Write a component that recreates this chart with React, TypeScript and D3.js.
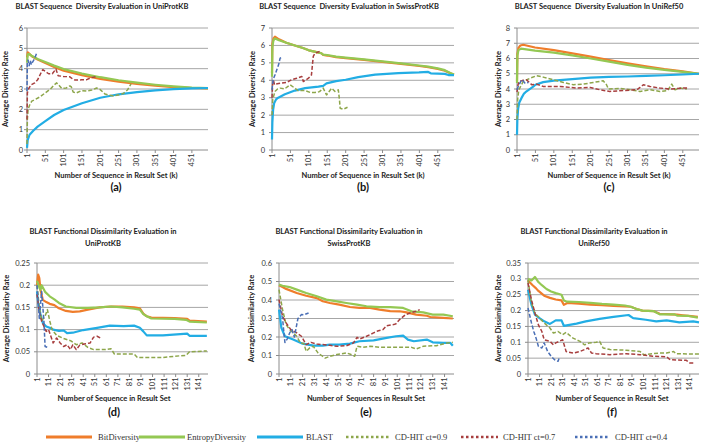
import * as d3 from "d3"

type Pt = [number, number]

// (a) sequence diversity, UniProtKB
const aBit: Pt[] = [[1, 4.55], [3, 4.8], [6, 4.75], [15, 4.6], [30, 4.45], [51, 4.28], [75, 4.08], [101, 3.9], [151, 3.68], [201, 3.5], [251, 3.36], [301, 3.25], [351, 3.16], [401, 3.09], [451, 3.05], [495, 3.03]]
const aEnt: Pt[] = [[1, 4.3], [3, 4.7], [7, 4.72], [15, 4.62], [30, 4.48], [51, 4.33], [75, 4.15], [101, 3.98], [151, 3.76], [201, 3.58], [251, 3.43], [301, 3.31], [351, 3.21], [401, 3.13], [451, 3.07], [495, 3.04]]
const aBlast: Pt[] = [[1, 0.1], [3, 0.5], [8, 0.75], [18, 0.95], [30, 1.15], [51, 1.42], [75, 1.72], [101, 1.97], [151, 2.3], [201, 2.57], [251, 2.74], [301, 2.85], [351, 2.93], [401, 2.99], [451, 3.03], [495, 3.05]]
const a09: Pt[] = [[1, 0.3], [2, 1.5], [4, 2.0], [8, 2.2], [14, 2.4], [25, 2.5], [37, 2.62], [50, 2.8], [65, 3.0], [75, 3.2], [82, 3.3], [90, 3.15], [96, 3.02], [108, 3.05], [118, 3.15], [122, 3.1], [127, 2.85], [135, 2.8], [150, 2.92], [165, 2.9], [178, 2.95], [191, 3.05], [200, 2.98], [214, 2.75], [225, 2.7], [237, 2.66], [250, 2.7], [264, 2.78], [275, 2.95], [285, 3.25]]
const a07: Pt[] = [[1, 1.5], [2, 2.8], [5, 3.0], [12, 3.2], [22, 3.3], [30, 3.45], [38, 3.75], [44, 3.95], [52, 3.85], [60, 3.75], [70, 3.75], [80, 3.98], [86, 3.65], [100, 3.62], [118, 3.6], [125, 3.5], [132, 3.44], [150, 3.45], [164, 3.46], [175, 3.55], [188, 3.6]]
const a04: Pt[] = [[1, 2.9], [2, 4.3], [4, 4.42], [7, 4.15], [10, 4.4], [13, 4.2], [17, 4.35], [22, 4.5], [27, 4.75]]

// (b) sequence diversity, SwissProtKB
const bBit: Pt[] = [[1, 4.4], [2, 6.1], [5, 6.4], [9, 6.5], [20, 6.35], [40, 6.15], [63, 6.0], [85, 5.85], [101, 5.72], [125, 5.6], [135, 5.55], [140, 5.45], [151, 5.42], [175, 5.33], [201, 5.27], [251, 5.17], [301, 5.06], [351, 4.94], [401, 4.82], [425, 4.75], [451, 4.65], [470, 4.55], [485, 4.4], [495, 4.32]]
const bEnt: Pt[] = [[1, 4.2], [2, 5.9], [5, 6.3], [9, 6.4], [20, 6.3], [40, 6.15], [63, 6.0], [85, 5.85], [101, 5.72], [125, 5.6], [135, 5.55], [140, 5.47], [151, 5.45], [175, 5.36], [201, 5.3], [251, 5.2], [301, 5.09], [351, 4.97], [401, 4.85], [425, 4.78], [451, 4.68], [470, 4.58], [485, 4.42], [495, 4.33]]
const bBlast: Pt[] = [[1, 0.6], [2, 1.6], [4, 2.3], [7, 2.7], [12, 2.9], [18, 3.0], [36, 3.2], [63, 3.41], [91, 3.55], [127, 3.64], [140, 3.68], [149, 3.82], [175, 3.95], [201, 4.03], [235, 4.18], [281, 4.32], [344, 4.41], [400, 4.45], [425, 4.48], [432, 4.4], [470, 4.37], [480, 4.3], [495, 4.3]]
const b09: Pt[] = [[1, 2.0], [3, 2.9], [9, 3.36], [16, 3.5], [23, 3.55], [35, 3.5], [50, 3.74], [63, 3.55], [72, 3.4], [90, 3.42], [105, 3.3], [118, 3.3], [130, 3.35], [140, 3.55], [149, 3.16], [163, 3.55], [172, 3.36], [181, 3.45], [184, 2.9], [186, 2.4], [195, 2.34], [206, 2.45]]
const b07: Pt[] = [[1, 3.0], [3, 3.9], [5, 4.0], [8, 3.74], [15, 3.8], [27, 3.84], [40, 3.87], [54, 4.03], [68, 4.12], [82, 4.22], [86, 3.93], [100, 4.12], [108, 4.3], [113, 5.37], [118, 5.56], [131, 5.66]]
const b04: Pt[] = [[1, 3.45], [4, 4.03], [9, 4.3], [14, 4.6], [19, 4.9], [23, 5.27], [27, 5.3]]

// (c) sequence diversity, UniRef50
const cBit: Pt[] = [[1, 4.5], [2, 6.3], [5, 6.7], [10, 6.85], [18, 6.9], [50, 6.72], [101, 6.55], [151, 6.34], [201, 6.12], [251, 5.9], [301, 5.68], [351, 5.48], [401, 5.3], [451, 5.15], [495, 5.0]]
const cEnt: Pt[] = [[1, 4.4], [2, 6.2], [5, 6.55], [12, 6.65], [50, 6.52], [101, 6.38], [151, 6.2], [201, 6.0], [251, 5.8], [301, 5.58], [351, 5.4], [401, 5.25], [451, 5.12], [495, 5.0]]
const cBlast: Pt[] = [[1, 1.0], [2, 2.0], [4, 2.7], [7, 3.1], [13, 3.4], [20, 3.7], [27, 3.85], [45, 4.15], [51, 4.28], [72, 4.45], [101, 4.55], [151, 4.65], [201, 4.74], [251, 4.79], [301, 4.82], [351, 4.86], [401, 4.9], [451, 4.95], [495, 5.0]]
const c09: Pt[] = [[1, 2.0], [3, 3.4], [6, 3.95], [18, 4.5], [36, 4.7], [54, 4.87], [72, 4.78], [100, 4.6], [127, 4.43], [154, 4.28], [181, 4.32], [208, 4.43], [235, 4.54], [244, 4.28], [249, 4.0], [281, 4.04], [308, 3.95], [335, 3.84], [362, 3.95], [389, 3.84], [410, 3.9], [421, 4.32], [430, 3.95], [444, 4.06], [462, 4.0]]
const c07: Pt[] = [[1, 3.8], [4, 4.3], [7, 4.5], [15, 4.55], [27, 4.6], [41, 4.28], [54, 4.32], [72, 4.17], [118, 4.17], [163, 4.06], [200, 4.1], [226, 3.95], [253, 3.84], [290, 3.9], [326, 3.95], [335, 4.1], [344, 4.28], [362, 4.17], [389, 4.06], [416, 4.0], [453, 4.06], [466, 4.06]]
const c04: Pt[] = [[1, 3.95], [5, 4.2], [9, 4.38], [13, 4.6], [17, 4.55], [23, 4.38], [32, 4.43]]

// (d) functional dissimilarity, UniProtKB
const dBit: Pt[] = [[1, 0.2], [2, 0.224], [3, 0.216], [4, 0.19], [6, 0.167], [9, 0.162], [12, 0.158], [16, 0.155], [20, 0.148], [26, 0.142], [32, 0.14], [38, 0.141], [45, 0.145], [55, 0.15], [65, 0.152], [75, 0.152], [85, 0.15], [90, 0.148], [93, 0.136], [96, 0.13], [100, 0.127], [120, 0.126], [131, 0.124], [133, 0.12], [148, 0.118]]
const dEnt: Pt[] = [[1, 0.21], [3, 0.195], [4, 0.19], [5, 0.2], [8, 0.185], [12, 0.175], [16, 0.168], [20, 0.16], [26, 0.152], [35, 0.149], [45, 0.149], [55, 0.15], [65, 0.152], [75, 0.15], [85, 0.147], [90, 0.145], [93, 0.135], [96, 0.13], [100, 0.125], [120, 0.124], [130, 0.122], [133, 0.118], [148, 0.116]]
const dBlast: Pt[] = [[1, 0.186], [2, 0.16], [4, 0.135], [6, 0.115], [9, 0.107], [12, 0.104], [15, 0.1], [20, 0.097], [24, 0.098], [27, 0.092], [32, 0.093], [41, 0.099], [53, 0.104], [64, 0.109], [76, 0.108], [85, 0.109], [90, 0.104], [93, 0.096], [96, 0.087], [110, 0.087], [125, 0.09], [131, 0.091], [133, 0.086], [148, 0.086]]
const d09: Pt[] = [[1, 0.2], [3, 0.15], [5, 0.12], [8, 0.13], [10, 0.145], [12, 0.12], [14, 0.1], [18, 0.087], [24, 0.08], [30, 0.075], [35, 0.066], [40, 0.07], [45, 0.06], [50, 0.055], [60, 0.055], [65, 0.057], [68, 0.045], [85, 0.045], [88, 0.037], [110, 0.037], [120, 0.04], [130, 0.042], [133, 0.05], [148, 0.052]]
const d07: Pt[] = [[1, 0.18], [3, 0.14], [5, 0.119], [9, 0.096], [11, 0.1], [13, 0.085], [15, 0.07], [18, 0.081], [21, 0.07], [24, 0.062], [27, 0.066], [30, 0.055], [32, 0.066], [35, 0.055], [38, 0.065], [43, 0.068], [47, 0.07], [50, 0.083], [53, 0.085], [56, 0.081]]
const d04: Pt[] = [[1, 0.2], [3, 0.125], [5, 0.186], [7, 0.119], [8, 0.062], [11, 0.059]]

// (e) functional dissimilarity, SwissProtKB
const eBit: Pt[] = [[1, 0.48], [4, 0.47], [7, 0.46], [16, 0.438], [24, 0.423], [33, 0.41], [38, 0.393], [44, 0.384], [52, 0.375], [61, 0.362], [69, 0.357], [78, 0.357], [86, 0.348], [95, 0.34], [103, 0.339], [109, 0.333], [117, 0.321], [126, 0.315], [129, 0.308], [140, 0.303], [148, 0.3]]
const eEnt: Pt[] = [[1, 0.483], [4, 0.477], [10, 0.47], [16, 0.456], [24, 0.438], [33, 0.42], [41, 0.402], [50, 0.393], [58, 0.384], [67, 0.375], [75, 0.366], [86, 0.362], [95, 0.362], [106, 0.357], [113, 0.339], [123, 0.333], [131, 0.321], [140, 0.321], [148, 0.312]]
const eBlast: Pt[] = [[1, 0.348], [3, 0.249], [6, 0.204], [13, 0.186], [21, 0.164], [30, 0.153], [38, 0.153], [44, 0.159], [52, 0.159], [61, 0.164], [69, 0.177], [81, 0.182], [92, 0.195], [100, 0.204], [106, 0.207], [110, 0.186], [115, 0.177], [126, 0.186], [131, 0.171], [140, 0.168], [146, 0.168], [148, 0.153]]
const e09: Pt[] = [[1, 0.456], [4, 0.348], [7, 0.267], [10, 0.24], [16, 0.204], [19, 0.168], [22, 0.165], [24, 0.123], [27, 0.141], [30, 0.15], [34, 0.114], [37, 0.1], [40, 0.086], [44, 0.096], [50, 0.105], [58, 0.114], [62, 0.105], [65, 0.096], [67, 0.15], [72, 0.144], [78, 0.15], [86, 0.144], [100, 0.144], [113, 0.144], [117, 0.135], [123, 0.15], [134, 0.153], [143, 0.168], [148, 0.171]]
const e07: Pt[] = [[1, 0.402], [4, 0.312], [7, 0.276], [11, 0.24], [16, 0.222], [20, 0.204], [24, 0.159], [28, 0.171], [33, 0.162], [38, 0.159], [44, 0.155], [50, 0.15], [58, 0.153], [64, 0.168], [67, 0.198], [69, 0.189], [75, 0.204], [81, 0.222], [85, 0.234], [89, 0.24], [92, 0.261], [98, 0.267], [100, 0.272], [103, 0.294], [108, 0.321], [112, 0.33], [117, 0.339], [120, 0.348]]
const e04: Pt[] = [[1, 0.38], [4, 0.3], [6, 0.17], [8, 0.19], [10, 0.222], [12, 0.24], [14, 0.2], [17, 0.3], [20, 0.321], [22, 0.32], [26, 0.33]]

// (f) functional dissimilarity, UniRef50
const fBit: Pt[] = [[1, 0.295], [5, 0.28], [8, 0.27], [10, 0.262], [15, 0.247], [20, 0.24], [25, 0.235], [30, 0.232], [32, 0.218], [35, 0.224], [45, 0.222], [55, 0.219], [65, 0.217], [75, 0.215], [85, 0.213], [90, 0.212], [95, 0.205], [100, 0.2], [110, 0.198], [115, 0.19], [125, 0.188], [130, 0.187], [135, 0.185], [140, 0.183], [148, 0.18]]
const fEnt: Pt[] = [[1, 0.3], [4, 0.295], [7, 0.306], [10, 0.29], [13, 0.28], [17, 0.268], [21, 0.26], [25, 0.255], [30, 0.25], [32, 0.232], [35, 0.228], [45, 0.227], [55, 0.224], [65, 0.221], [75, 0.219], [85, 0.216], [90, 0.212], [95, 0.205], [100, 0.2], [110, 0.198], [115, 0.188], [125, 0.188], [128, 0.188], [130, 0.184], [140, 0.183], [148, 0.178]]
const fBlast: Pt[] = [[1, 0.266], [4, 0.218], [7, 0.187], [11, 0.176], [15, 0.166], [20, 0.158], [25, 0.169], [30, 0.169], [32, 0.152], [43, 0.159], [51, 0.166], [63, 0.174], [75, 0.18], [88, 0.186], [92, 0.176], [103, 0.171], [112, 0.166], [121, 0.169], [132, 0.163], [144, 0.166], [149, 0.163]]
const f09: Pt[] = [[1, 0.297], [4, 0.224], [7, 0.192], [11, 0.176], [15, 0.161], [20, 0.145], [23, 0.129], [27, 0.134], [31, 0.124], [34, 0.131], [40, 0.113], [46, 0.103], [50, 0.092], [54, 0.098], [60, 0.1], [63, 0.103], [66, 0.082], [72, 0.077], [86, 0.075], [98, 0.071], [101, 0.061], [109, 0.064], [115, 0.066], [121, 0.066], [127, 0.071], [129, 0.064], [144, 0.063], [149, 0.063]]
const f07: Pt[] = [[1, 0.287], [4, 0.234], [7, 0.192], [10, 0.155], [13, 0.134], [15, 0.108], [20, 0.103], [23, 0.092], [25, 0.098], [28, 0.103], [31, 0.108], [34, 0.071], [40, 0.066], [46, 0.071], [53, 0.082], [56, 0.066], [60, 0.064], [72, 0.061], [86, 0.064], [98, 0.061], [109, 0.056], [121, 0.054], [124, 0.045], [138, 0.043], [141, 0.035], [145, 0.035]]
const f04: Pt[] = [[1, 0.208], [4, 0.161], [6, 0.134], [8, 0.113], [10, 0.087], [13, 0.082], [15, 0.098], [18, 0.071], [21, 0.056], [24, 0.045], [27, 0.04], [28, 0.05]]

const seriesNames = ["BitDiversity", "EntropyDiversity", "BLAST", "CD-HIT ct=0.9", "CD-HIT ct=0.7", "CD-HIT ct=0.4"]
const seriesColors = ["#EF7D2B", "#94C853", "#22ADE4", "#8DA64B", "#A73E3E", "#4A6FB6"]
const seriesDashed = [false, false, false, true, true, true]

const topXTicks = [1, 51, 101, 151, 201, 251, 301, 351, 401, 451]
const bottomXTicks = [1, 11, 21, 31, 41, 51, 61, 71, 81, 91, 101, 111, 121, 131, 141]
const aYTicks = [0, 1, 2, 3, 4, 5, 6]
const bYTicks = [0, 1, 2, 3, 4, 5, 6, 7]
const cYTicks = [0, 1, 2, 3, 4, 5, 6, 7, 8]
const dYTicks = [0, 0.05, 0.1, 0.15, 0.2, 0.25]
const eYTicks = [0, 0.1, 0.2, 0.3, 0.4, 0.5, 0.6]
const fYTicks = [0, 0.05, 0.1, 0.15, 0.2, 0.25, 0.3, 0.35]

const SANS = "Lato, 'DejaVu Sans', sans-serif"

interface PanelCfg {
  series: Pt[][]
  xMax: number
  xTicks: number[]
  yTicks: number[]
  left: number
  right: number
  top: number
  bottom: number
  labelGap: number
  title: string[]
  titleX: number
  titleY: number
  yLabel: string
  yLabelX: number
  xLabel: string
  xLabelX: number
  xLabelY: number
  letter: string
  letterY: number
}

const panels: PanelCfg[] = [
  {
    series: [aBit, aEnt, aBlast, a09, a07, a04], xMax: 495, xTicks: topXTicks, yTicks: aYTicks,
    left: 27, right: 208, top: 28, bottom: 150, labelGap: 4,
    title: ["BLAST Sequence  Diversity Evaluation in UniProtKB"], titleX: 102, titleY: 8.5,
    yLabel: "Average Diversity Rate", yLabelX: 5,
    xLabel: "Number of Sequence in Result Set (k)", xLabelX: 116, xLabelY: 177.5, letter: "(a)", letterY: 191,
  },
  {
    series: [bBit, bEnt, bBlast, b09, b07, b04], xMax: 495, xTicks: topXTicks, yTicks: bYTicks,
    left: 272, right: 454, top: 28, bottom: 150, labelGap: 7,
    title: ["BLAST Sequence  Diversity Evaluation in SwissProtKB"], titleX: 349, titleY: 8.5,
    yLabel: "Average Diversity Rate", yLabelX: 252.5,
    xLabel: "Number of Sequence in Result Set (k)", xLabelX: 363, xLabelY: 177.5, letter: "(b)", letterY: 191,
  },
  {
    series: [cBit, cEnt, cBlast, c09, c07, c04], xMax: 495, xTicks: topXTicks, yTicks: cYTicks,
    left: 517, right: 699, top: 28, bottom: 150, labelGap: 7,
    title: ["BLAST Sequence  Diversity Evaluation In UniRef50"], titleX: 599, titleY: 8.5,
    yLabel: "Average Diversity Rate", yLabelX: 498,
    xLabel: "Number of Sequence in Result Set (k)", xLabelX: 609, xLabelY: 177.5, letter: "(c)", letterY: 191,
  },
  {
    series: [dBit, dEnt, dBlast, d09, d07, d04], xMax: 149, xTicks: bottomXTicks, yTicks: dYTicks,
    left: 37, right: 208, top: 263, bottom: 374, labelGap: 7,
    title: ["BLAST Functional Dissimilarity Evaluation in", "UniProtKB"], titleX: 103, titleY: 234,
    yLabel: "Average Dissimilarity Rate", yLabelX: 6.5,
    xLabel: "Number of Sequence in Result Set", xLabelX: 114, xLabelY: 401, letter: "(d)", letterY: 416,
  },
  {
    series: [eBit, eEnt, eBlast, e09, e07, e04], xMax: 149, xTicks: bottomXTicks, yTicks: eYTicks,
    left: 279, right: 454, top: 263, bottom: 374, labelGap: 7,
    title: ["BLAST Functional Dissimilarity Evaluation in", "SwissProtKB"], titleX: 349, titleY: 234,
    yLabel: "Average Dissimilarity Rate", yLabelX: 251.5,
    xLabel: "Number of  Sequences in Result Set", xLabelX: 366, xLabelY: 401, letter: "(e)", letterY: 416,
  },
  {
    series: [fBit, fEnt, fBlast, f09, f07, f04], xMax: 149, xTicks: bottomXTicks, yTicks: fYTicks,
    left: 528, right: 699, top: 263, bottom: 374, labelGap: 7,
    title: ["BLAST Functional Dissimilarity Evaluation in", "UniRef50"], titleX: 594, titleY: 234,
    yLabel: "Average Dissimilarity Rate", yLabelX: 498,
    xLabel: "Number of Sequence in Result Set", xLabelX: 612, xLabelY: 401, letter: "(f)", letterY: 416,
  },
]

const fmtTick = (v: number) => String(+v.toFixed(2))

function Panel({ p }: { p: PanelCfg }) {
  const x = d3.scaleLinear().domain([1, p.xMax]).range([p.left, p.right])
  const yMax = p.yTicks[p.yTicks.length - 1]
  const y = d3.scaleLinear().domain([0, yMax]).range([p.bottom, p.top])
  const line = d3.line<Pt>().x((d) => x(d[0])).y((d) => y(d[1]))
  const midY = (p.top + p.bottom) / 2

  return (
    <g>
      {/* grid + y ticks */}
      {p.yTicks.map((t) => (
        <g key={t}>
          {t > 0 && <line x1={p.left} x2={p.right} y1={y(t)} y2={y(t)} stroke="#a6a6a6" strokeWidth={1} />}
          <line x1={p.left - 3} x2={p.left} y1={y(t)} y2={y(t)} stroke="#8c8c8c" strokeWidth={1} />
          <text x={p.left - p.labelGap} y={y(t)} textAnchor="end" dominantBaseline="central" fontSize={7.5} fill="#333" fontFamily={SANS}>
            {fmtTick(t)}
          </text>
        </g>
      ))}
      <line x1={p.left} x2={p.left} y1={p.top} y2={p.bottom} stroke="#8c8c8c" strokeWidth={1} />
      <line x1={p.left} x2={p.right} y1={p.bottom} y2={p.bottom} stroke="#8c8c8c" strokeWidth={1} />
      {/* x ticks */}
      {p.xTicks.map((t) => (
        <g key={t} transform={`translate(${x(t)},${p.bottom})`}>
          <line y1={0} y2={3} stroke="#8c8c8c" strokeWidth={1} />
          <text transform="rotate(-90)" x={-3.5} y={0} textAnchor="end" dominantBaseline="central" fontSize={7.5} fill="#333" fontFamily={SANS}>
            {t}
          </text>
        </g>
      ))}
      {/* series */}
      {p.series.map((s, i) => (
        <path
          key={i}
          d={line(s) || ""}
          fill="none"
          stroke={seriesColors[i]}
          strokeWidth={seriesDashed[i] ? 1.5 : 2.2}
          strokeDasharray={seriesDashed[i] ? "4,2" : undefined}
          strokeLinejoin="round"
        />
      ))}
      {/* titles */}
      {p.title.map((t, i) => (
        <text key={i} x={p.titleX} y={p.titleY + i * 11.5} textAnchor="middle" fontSize={7.5} fontWeight="bold" fill="#222" fontFamily={SANS} style={{ whiteSpace: "pre" }}>
          {t}
        </text>
      ))}
      <text transform={`translate(${p.yLabelX},${midY}) rotate(-90)`} textAnchor="middle" dominantBaseline="central" fontSize={7.5} fontWeight="bold" fill="#222" fontFamily={SANS}>
        {p.yLabel}
      </text>
      <text x={p.xLabelX} y={p.xLabelY} textAnchor="middle" fontSize={7.5} fontWeight="bold" fill="#222" fontFamily={SANS} style={{ whiteSpace: "pre" }}>
        {p.xLabel}
      </text>
      <text x={p.xLabelX} y={p.letterY} textAnchor="middle" fontSize={11} fontWeight="bold" fill="#111" fontFamily={SANS}>
        {p.letter}
      </text>
    </g>
  )
}

// legend line start positions and text positions
const legendLines: [number, number][] = [[46, 92], [139, 185], [257, 303], [346, 389], [461, 498], [575, 609]]
const legendTextX = [98, 187, 306, 395, 503, 615]

export default function App() {
  const ly = 437
  return (
    <svg width={703} height={445} style={{ position: "absolute", left: 0, top: 0, background: "#fff" }}>
      <rect width={703} height={445} fill="#fff" />
      {panels.map((p, i) => (
        <Panel key={i} p={p} />
      ))}
      {seriesNames.map((name, i) => (
        <g key={name}>
          <line
            x1={legendLines[i][0]}
            x2={legendLines[i][1]}
            y1={ly}
            y2={ly}
            stroke={seriesColors[i]}
            strokeWidth={seriesDashed[i] ? 2.5 : 3}
            strokeDasharray={seriesDashed[i] ? "2.5,2.5" : undefined}
          />
          <text x={legendTextX[i]} y={ly} dominantBaseline="central" fontSize={8.5} fill="#333" fontFamily="'Liberation Serif', 'Times New Roman', serif">
            {name}
          </text>
        </g>
      ))}
    </svg>
  )
}
